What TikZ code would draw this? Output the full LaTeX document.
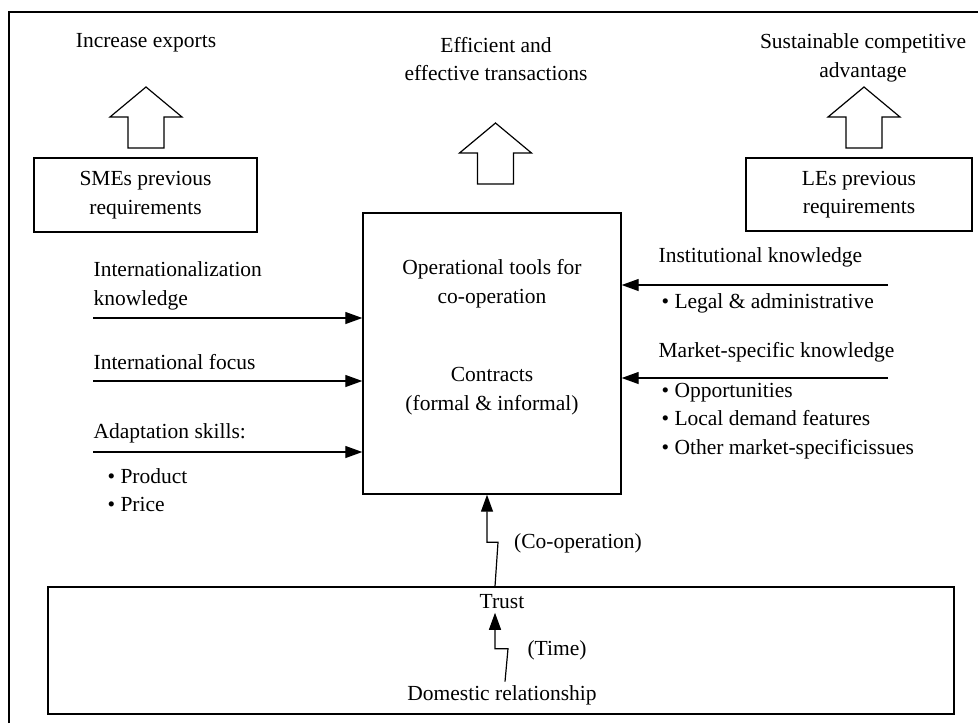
\documentclass[tikz,border=0pt]{standalone}
\usepackage{fontspec}
\setmainfont{Liberation Serif}
\usetikzlibrary{arrows.meta}

\begin{document}
\begin{tikzpicture}[x=0.5pt,y=-0.5pt,line width=0.6pt,
  every node/.style={font=\fontsize{10.75}{14.3}\selectfont,inner sep=1.5pt},
  box/.style={draw,line width=0.7pt,inner sep=0pt,align=center},
  lbl/.style={anchor=west,align=left},
  arr/.style={-{Triangle[length=8.5pt,width=6pt]}}]
\useasboundingbox (0,0) rectangle (978,723);
\draw[line width=0.7pt] (9,723) |- (978,12);

% goals and block arrows
\node (exports) at (146,43) {Increase exports};
\node[align=center] (effic) at (496,59) {Efficient and\\effective transactions};
\node[align=center] (sustain) at (863,58) {Sustainable competitive\\advantage};
\foreach \cx/\ty in {146/87,495.5/123,864/87}
  \draw (\cx,\ty) -- ++(36,30) -- ++(-18,0) -- ++(0,31) -- ++(-36,0) -- ++(0,-31) -- ++(-18,0) -- cycle;

% requirement boxes
\node[box,minimum width=111.5pt,minimum height=37pt] (sme) at (145.5,195) {SMEs previous\\requirements};
\node[box,minimum width=113pt,minimum height=36.5pt] (le) at (859,194.5) {LEs previous\\requirements};

% central box
\node[box,minimum width=129pt,minimum height=140.5pt] (tools) at (492,353.5) {};
\node[align=center] (optools) at (492,284) {Operational tools for\\co-operation};
\node[align=center] (contracts) at (492,391) {Contracts\\(formal \& informal)};

% left inputs
\node[lbl] (intl) at (90,286) {Internationalization\\knowledge};
\node[lbl] (focus) at (90,362) {International focus};
\node[lbl] (adapt) at (90,433) {Adaptation skills:};
\node[lbl] (adaptlist) at (104,490) {\textbullet\ Product\\\textbullet\ Price};
\foreach \y/\n in {318/a,381/b,452/c} {
  \coordinate (in\n) at (93,\y);
  \draw[arr] (in\n) -- (in\n -| tools.west);
}

% right inputs
\node[lbl] (inst) at (655,257) {Institutional knowledge};
\node[lbl] (legal) at (658,303) {\textbullet\ Legal \& administrative};
\node[lbl] (market) at (655,352) {Market-specific knowledge};
\node[lbl] (marketlist) at (658,421) {\textbullet\ Opportunities\\\textbullet\ Local demand features\\\textbullet\ Other market-specificissues};
\foreach \y/\n in {285/a,378/b} {
  \coordinate (out\n) at (888,\y);
  \draw[arr] (out\n) -- (out\n -| tools.east);
}

% base
\node[box,minimum width=453pt,minimum height=63.5pt] (base) at (501,650.5) {};
\node (trust) at (502,602) {Trust};
\node (domestic) at (502,695) {Domestic relationship};
\node (time) at (557,650) {(Time)};
\node (coop) at (578,543) {(Co-operation)};
\draw[arr] ([xshift=-3pt]base.north) -- ++(3,-44) -| ([xshift=-2.5pt]tools.south);
\draw[arr] ([xshift=1.5pt]domestic.north) -- ++(3,-33) -| ([xshift=-3.5pt]trust.south);
\end{tikzpicture}
\end{document}
